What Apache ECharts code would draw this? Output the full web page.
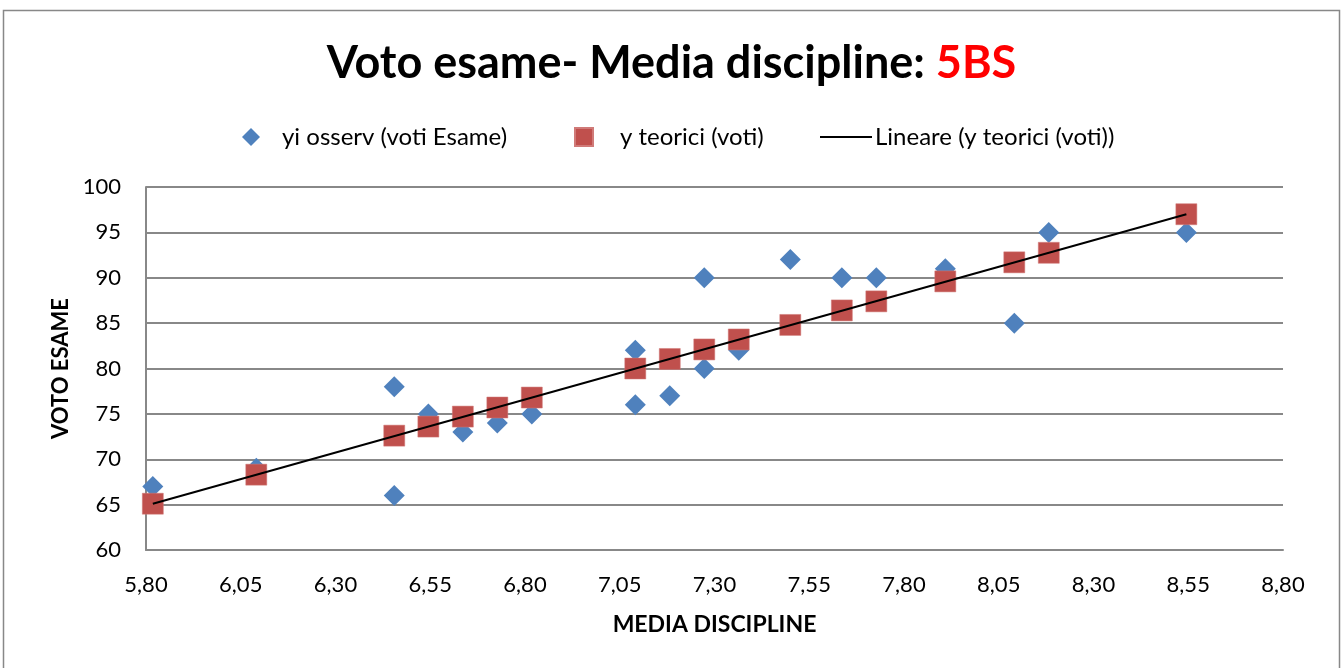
<!DOCTYPE html>
<html>
<head>
<meta charset="utf-8">
<script src="https://cdn.jsdelivr.net/npm/echarts@6/dist/echarts.min.js"></script>
<style>
  html, body { margin: 0; padding: 0; background: #fff; }
  #chart { width: 1343px; height: 668px; }
</style>
</head>
<body>
<div id="chart"></div>
<script>
// media discipline (x) for each student
const mediaOss = [5.818, 6.091, 6.455, 6.455, 6.545, 6.636, 6.727, 6.818, 7.091, 7.091,
  7.182, 7.273, 7.273, 7.364, 7.5, 7.636, 7.727, 7.909, 8.091, 8.182, 8.545];
// voto esame osservato
const votiOss = [67, 69, 78, 66, 75, 73, 74, 75, 82, 76,
  77, 90, 80, 82, 92, 90, 90, 91, 85, 95, 95];
// y teorici (retta di regressione)
const mediaTeo = [5.818, 6.091, 6.455, 6.545, 6.636, 6.727, 6.818, 7.091, 7.182,
  7.273, 7.364, 7.5, 7.636, 7.727, 7.909, 8.091, 8.182, 8.545];
const votiTeo = [65.1, 68.3, 72.6, 73.6, 74.7, 75.7, 76.8, 80.0, 81.05,
  82.1, 83.2, 84.8, 86.4, 87.4, 89.6, 91.7, 92.75, 97.0];
// estremi della linea di tendenza
const trendX = [5.818, 8.545];
const trendY = [65.1, 97.0];

const FONT = "Lato";
const nomeOss = "yi osserv (voti Esame)";
const nomeTeo = "y teorici (voti)";
const nomeLin = "Lineare (y teorici (voti))";

const chart = echarts.init(document.getElementById("chart"));

const legendBase = {
  top: 120,
  itemHeight: 18,
  textStyle: { fontFamily: FONT, fontSize: 24, color: "#000" },
  selectedMode: false
};

chart.setOption({
  backgroundColor: "#fff",
  animation: false,
  title: {
    text: "{a|Voto esame- Media discipline: }{b|5BS}",
    left: "center",
    top: 36,
    textStyle: {
      rich: {
        a: { fontFamily: FONT, fontSize: 45, fontWeight: "bold", color: "#000" },
        b: { fontFamily: FONT, fontSize: 45, fontWeight: "bold", color: "#ff0000" }
      }
    }
  },
  legend: [
    Object.assign({}, legendBase, {
      left: 237, itemWidth: 18,
      data: [{ name: nomeOss, icon: "diamond" }],
      textStyle: Object.assign({}, legendBase.textStyle, { padding: [0, 0, 0, 17] })
    }),
    Object.assign({}, legendBase, {
      left: 569, itemWidth: 18,
      data: [{ name: nomeTeo, icon: "rect" }],
      textStyle: Object.assign({}, legendBase.textStyle, { padding: [0, 0, 0, 22] })
    }),
    Object.assign({}, legendBase, {
      left: 815, itemWidth: 52, itemHeight: 2,
      data: [{ name: nomeLin, icon: "rect", itemStyle: { color: "#000" } }],
      textStyle: Object.assign({}, legendBase.textStyle, { padding: [0, 0, 0, -2] })
    })
  ],
  grid: { left: 146, right: 60, top: 187, bottom: 118 },
  xAxis: {
    type: "value",
    min: 5.8,
    max: 8.8,
    interval: 0.25,
    name: "MEDIA DISCIPLINE",
    nameLocation: "middle",
    nameGap: 63,
    nameTextStyle: { fontFamily: FONT, fontSize: 23, fontWeight: "bold", color: "#000" },
    axisLine: { show: true, lineStyle: { color: "#888", width: 2 } },
    axisTick: { show: false },
    splitLine: { show: false },
    axisLabel: {
      fontFamily: FONT, fontSize: 22, color: "#000", margin: 24,
      formatter: v => v.toFixed(2).replace(".", ",")
    }
  },
  yAxis: {
    type: "value",
    min: 60,
    max: 100,
    interval: 5,
    name: "VOTO ESAME",
    nameLocation: "middle",
    nameGap: 73,
    nameTextStyle: { fontFamily: FONT, fontSize: 22, fontWeight: "bold", color: "#000" },
    axisLine: { show: true, lineStyle: { color: "#888", width: 2 } },
    axisTick: { show: false },
    splitLine: { show: true, lineStyle: { color: "#888", width: 2 } },
    axisLabel: { fontFamily: FONT, fontSize: 22, color: "#000", margin: 25 }
  },
  series: [
    {
      name: nomeOss,
      type: "scatter",
      symbol: "diamond",
      symbolSize: [21, 21],
      itemStyle: { color: "#4f81bd", opacity: 1 },
      data: mediaOss.map((x, i) => [x, votiOss[i]]),
      z: 2
    },
    {
      name: nomeTeo,
      type: "scatter",
      symbol: "rect",
      symbolSize: 21,
      itemStyle: { color: "#c0504d", opacity: 1, borderColor: "#d07a78", borderWidth: 0.5 },
      data: mediaTeo.map((x, i) => [x, votiTeo[i]]),
      z: 3
    },
    {
      name: nomeLin,
      type: "line",
      symbol: "none",
      lineStyle: { color: "#000", width: 2 },
      itemStyle: { color: "#000" },
      data: trendX.map((x, i) => [x, trendY[i]]),
      z: 4
    }
  ],
  graphic: [
    {
      type: "rect",
      shape: { x: 3.5, y: 10.5, width: 1336, height: 700 },
      style: { fill: null, stroke: "#888", lineWidth: 1.5 },
      silent: true,
      z: -1
    }
  ]
});
</script>
</body>
</html>
